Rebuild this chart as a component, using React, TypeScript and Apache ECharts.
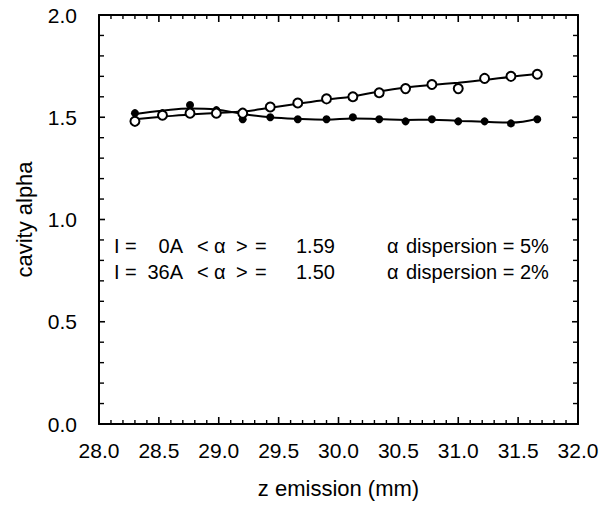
import React, { useEffect, useRef } from "react";
import * as echarts from "echarts";

// z positions of the measured emission points (mm)
const zEmission = [28.3, 28.53, 28.76, 28.98, 29.2, 29.43, 29.66, 29.9, 30.12, 30.34, 30.56, 30.78, 31.0, 31.22, 31.44, 31.66];

// measured cavity alpha, I = 0A (open circles)
const alphaI0 = [1.48, 1.51, 1.52, 1.52, 1.52, 1.55, 1.57, 1.59, 1.6, 1.62, 1.64, 1.66, 1.64, 1.69, 1.7, 1.71];
// measured cavity alpha, I = 36A (filled circles)
const alphaI36 = [1.52, 1.52, 1.56, 1.535, 1.49, 1.5, 1.49, 1.49, 1.5, 1.49, 1.48, 1.49, 1.48, 1.48, 1.47, 1.49];

// smooth fitted curves through each set, sampled at the same z positions
const fitI0 = [1.49, 1.503, 1.514, 1.521, 1.528, 1.546, 1.566, 1.586, 1.602, 1.626, 1.645, 1.658, 1.669, 1.682, 1.698, 1.712];
const fitI36 = [1.516, 1.532, 1.543, 1.538, 1.516, 1.5, 1.492, 1.488, 1.494, 1.491, 1.487, 1.488, 1.482, 1.478, 1.474, 1.493];

// summary annotation rows
const currents = ["0A", "36A"];
const meanAlpha = ["1.59", "1.50"];
const dispersion = ["5%", "2%"];

const X_MIN = 28;
const X_MAX = 32;
const Y_MIN = 0;
const Y_MAX = 2;
const MINOR_STEP = 0.1;
const MINOR_PER_MAJOR = 5;

const WIDTH = 604;
const GRID = { left: 99, right: 26, top: 15, bottom: 81 };

const pairs = (xs: number[], ys: number[]) => xs.map((x, i) => [x, ys[i]]);

// tick positions between min and max, split into major (every 0.5) and minor (every 0.1)
function tickValues(min: number, max: number, major: boolean) {
  const n = Math.round((max - min) / MINOR_STEP);
  const out: number[] = [];
  for (let i = 1; i < n; i++) {
    if ((i % MINOR_PER_MAJOR === 0) === major) out.push(+(min + i * MINOR_STEP).toFixed(2));
  }
  return out;
}

// inward tick marks on all four sides of the frame, drawn as thin rect symbols
function frameTickSeries() {
  const out: any[] = [];
  const base = {
    type: "scatter",
    symbol: "rect",
    silent: true,
    clip: false,
    z: 5,
    itemStyle: { color: "#000", opacity: 1 },
    emphasis: { disabled: true },
  };
  [true, false].forEach((major) => {
    const xLen = major ? 7 : 4;
    const xW = major ? 1.6 : 1.4;
    const xs = tickValues(X_MIN, X_MAX, major);
    out.push({ ...base, data: xs.map((v) => [v, Y_MIN]), symbolSize: [xW, xLen], symbolOffset: [0, -xLen / 2] });
    out.push({ ...base, data: xs.map((v) => [v, Y_MAX]), symbolSize: [xW, xLen], symbolOffset: [0, xLen / 2] });
    const yLen = major ? 6 : 5;
    const yW = major ? 1.6 : 1.4;
    const ys = tickValues(Y_MIN, Y_MAX, major);
    out.push({ ...base, data: ys.map((v) => [X_MIN, v]), symbolSize: [yLen, yW], symbolOffset: [yLen / 2, 0] });
    out.push({ ...base, data: ys.map((v) => [X_MAX, v]), symbolSize: [yLen, yW], symbolOffset: [-yLen / 2, 0] });
  });
  return out;
}

function makeAxis(kind: "x" | "y", position: string, gridIndex: number, withLabels: boolean) {
  const isX = kind === "x";
  return {
    type: "value",
    gridIndex,
    position,
    min: isX ? X_MIN : Y_MIN,
    max: isX ? X_MAX : Y_MAX,
    interval: 0.5,
    axisLine: { show: true, onZero: false, lineStyle: { color: "#000", width: 2 } },
    axisTick: { show: false },
    minorTick: { show: false },
    splitLine: { show: false },
    axisLabel: {
      show: withLabels,
      color: "#000",
      fontSize: 21,
      margin: isX ? 16 : 22,
      formatter: (v: number) => v.toFixed(1),
    },
  };
}

// one annotation fragment, placed as a title box
function note(text: string, x: number, rowTop: number, alignRight = false) {
  return {
    text,
    top: rowTop,
    ...(alignRight ? { right: WIDTH - x } : { left: x }),
    padding: 0,
    textStyle: { color: "#000", fontSize: 20, fontWeight: "normal" },
  };
}

export default function App() {
  const ref = useRef<HTMLDivElement>(null);

  useEffect(() => {
    if (!ref.current) return;
    const chart = echarts.init(ref.current, null, { renderer: "svg" });

    const rowTops = [236, 262];
    const titles: any[] = [];
    rowTops.forEach((top, i) => {
      titles.push(note("I =", 114, top));
      titles.push(note(currents[i], 183, top, true));
      titles.push(note("<", 197, top));
      titles.push(note("\u03b1", 214, top));
      titles.push(note(">", 236, top));
      titles.push(note("=", 255, top));
      titles.push(note(meanAlpha[i], 296, top));
      titles.push(note("\u03b1", 387, top));
      titles.push(note("dispersion = " + dispersion[i], 406, top));
    });

    chart.setOption({
      animation: false,
      backgroundColor: "#fff",
      title: titles,
      grid: [GRID, GRID],
      xAxis: [
        {
          ...makeAxis("x", "bottom", 0, true),
          name: "z emission (mm)",
          nameLocation: "middle",
          nameGap: 53,
          nameTextStyle: { fontSize: 22 },
        },
        makeAxis("x", "top", 1, false),
      ],
      yAxis: [
        {
          ...makeAxis("y", "left", 0, true),
          name: "cavity alpha",
          nameLocation: "middle",
          nameGap: 64,
          nameTextStyle: { fontSize: 22 },
        },
        makeAxis("y", "right", 1, false),
      ],
      series: [
        ...frameTickSeries(),
        {
          type: "line",
          data: pairs(zEmission, fitI0),
          smooth: 0.4,
          symbol: "none",
          lineStyle: { color: "#000", width: 2 },
          z: 2,
        },
        {
          type: "line",
          data: pairs(zEmission, fitI36),
          smooth: 0.4,
          symbol: "none",
          lineStyle: { color: "#000", width: 2 },
          z: 2,
        },
        {
          type: "scatter",
          data: pairs(zEmission, alphaI36),
          symbol: "circle",
          symbolSize: 8,
          itemStyle: { color: "#000", opacity: 1 },
          z: 3,
        },
        {
          type: "scatter",
          data: pairs(zEmission, alphaI0),
          symbol: "circle",
          symbolSize: 9,
          itemStyle: { color: "#fff", borderColor: "#000", borderWidth: 2, opacity: 1 },
          z: 4,
        },
      ],
    });

    return () => chart.dispose();
  }, []);

  return <div ref={ref} style={{ position: "absolute", left: 0, top: 0, width: 604, height: 505 }} />;
}
